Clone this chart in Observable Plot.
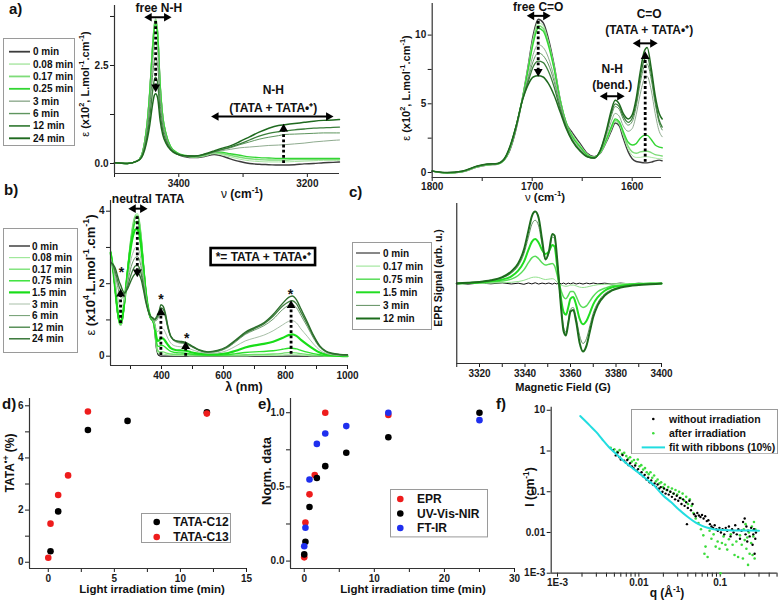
<!DOCTYPE html>
<html><head><meta charset="utf-8">
<script src="https://cdn.jsdelivr.net/npm/d3@7"></script>
<script src="https://cdn.jsdelivr.net/npm/@observablehq/plot@0.6"></script>
<style>
body{margin:0;background:#fff;}
#fig{position:relative;width:783px;height:602px;overflow:hidden;font-family:"Liberation Sans",Arial,sans-serif;font-weight:bold;color:#111;background:#fff;}
.lab{position:absolute;white-space:nowrap;transform:translate(-50%,-50%);line-height:1;}
.ylab{position:absolute;white-space:nowrap;transform:translate(-50%,-50%) rotate(-90deg);line-height:1;}
.letter{position:absolute;font-size:15px;line-height:1;}
sup{font-size:68%;vertical-align:super;line-height:0;}
.nb{font-weight:normal;}
</style></head><body><div id="fig"></div>
<script>
// ================= DATA =================
// (a, left) FT-IR N-H region
const irNHWavenumber = [3500,3480,3465,3458,3453,3449,3445,3441,3438,3436,3433,3429,3425,3420,3413,3403,3392,3375,3360,3345,3335,3320,3305,3290,3275,3260,3245,3235,3220,3205,3190,3175,3160,3150];
const irNHLabels = ["0 min","0.08 min","0.17 min","0.25 min","3 min","6 min","12 min","24 min"];
const irNH_0   = [0.02,0.0,0.06,0.2,0.55,1.05,1.85,2.9,3.5,3.62, 3.35,2.0,1.2,0.75,0.42,0.25,0.18,0.15,0.18,0.23, 0.2,0.12,0.05,0.0,-0.02,-0.03,-0.04,-0.04,-0.03,-0.01, 0.0,0.02,0.03,0.04];
const irNH_008 = [0.02,0.0,0.06,0.21,0.57,1.08,1.9,2.98,3.58,3.7, 3.42,2.05,1.23,0.77,0.43,0.26,0.19,0.16,0.19,0.25, 0.23,0.17,0.11,0.07,0.05,0.04,0.04,0.04,0.05,0.06, 0.07,0.08,0.08,0.08];
const irNH_017 = [0.02,0.0,0.06,0.21,0.56,1.07,1.88,2.94,3.54,3.66, 3.38,2.03,1.22,0.77,0.44,0.27,0.2,0.17,0.2,0.27, 0.26,0.21,0.16,0.12,0.1,0.09,0.09,0.09,0.1,0.1, 0.1,0.11,0.11,0.11];
const irNH_025 = [0.02,0.0,0.06,0.2,0.55,1.04,1.83,2.86,3.44,3.55, 3.29,1.98,1.2,0.76,0.44,0.28,0.21,0.18,0.22,0.29, 0.29,0.25,0.21,0.17,0.15,0.14,0.13,0.13,0.13,0.13, 0.13,0.13,0.13,0.13];
const irNH_3   = [0.02,0.0,0.06,0.19,0.5,0.92,1.62,2.5,3.0,3.1, 2.88,1.75,1.08,0.7,0.41,0.26,0.2,0.18,0.22,0.28, 0.32,0.36,0.4,0.42,0.44,0.46,0.47,0.48,0.5,0.52, 0.55,0.57,0.59,0.6];
const irNH_6   = [0.02,0.0,0.06,0.18,0.46,0.84,1.45,2.2,2.62,2.7, 2.52,1.55,0.98,0.65,0.4,0.26,0.2,0.19,0.23,0.3, 0.35,0.4,0.48,0.55,0.62,0.67,0.71,0.74,0.75,0.76, 0.77,0.78,0.78,0.78];
const irNH_12  = [0.02,0.0,0.06,0.16,0.4,0.72,1.2,1.8,2.14,2.2, 2.06,1.3,0.85,0.58,0.37,0.25,0.2,0.19,0.23,0.3, 0.35,0.42,0.5,0.6,0.7,0.77,0.81,0.83,0.86,0.88, 0.9,0.91,0.92,0.93];
const irNH_24  = [0.02,0.0,0.06,0.15,0.35,0.62,1.0,1.48,1.74,1.78, 1.68,1.1,0.74,0.52,0.35,0.24,0.2,0.19,0.24,0.32, 0.38,0.45,0.56,0.68,0.8,0.9,0.97,0.99,1.02,1.05, 1.08,1.1,1.11,1.12];

// (a, right) FT-IR C=O region
const irCOWavenumber = [1800,1785,1770,1755,1745,1735,1728,1722,1716,1710,1704,1699,1694,1689,1684,1678,1672,1666,1660,1652,1645,1638,1632,1626,1621,1617,1613,1609,1604,1600,1596,1592,1588,1585,1581,1577,1573,1570];
const irCO_0   = [0.1,-0.05,0.05,0.4,0.55,0.6,0.9,1.7,3.2, 5.3,7.8,10.0,11.15,10.9,9.8,7.8,5.3,3.6,2.9, 2.1,1.4,1.15,1.4,2.2,3.0,3.6,3.4,2.5,1.5, 1.0,0.8,0.75,0.7,0.7,0.75,0.85,0.9,0.85];
const irCO_008 = [0.1,-0.05,0.05,0.4,0.55,0.6,0.9,1.75,3.3, 5.3,7.7,9.8,10.9,10.7,9.6,7.7,5.3,3.6,2.8, 2.0,1.35,1.12,1.4,2.25,3.1,3.7,3.5,2.7,1.7, 1.25,1.1,1.1,1.15,1.15,1.1,1.05,1.0,1.0];
const irCO_017 = [0.1,-0.04,0.06,0.42,0.56,0.61,0.92,1.8,3.35, 5.3,7.6,9.6,10.7,10.5,9.5,7.6,5.3,3.6,2.7, 1.9,1.3,1.1,1.45,2.3,3.2,3.8,3.6,2.85,1.9, 1.5,1.4,1.5,1.55,1.55,1.45,1.3,1.25,1.2];
const irCO_025 = [0.1,-0.03,0.07,0.43,0.57,0.62,0.94,1.85,3.4, 5.3,7.5,9.4,10.5,10.3,9.3,7.5,5.2,3.6,2.6, 1.85,1.25,1.08,1.5,2.4,3.3,3.9,3.7,3.0,2.2, 2.0,2.1,2.5,2.7,2.7,2.4,2.0,1.85,1.8];
const irCO_3   = [0.1,-0.02,0.08,0.44,0.58,0.63,0.96,1.9,3.4, 5.3,7.0,8.6,9.3,9.1,8.4,6.9,5.0,3.5,2.5, 1.75,1.2,1.05,1.55,2.6,3.7,4.3,4.1,3.4,3.0, 3.2,4.2,5.7,6.8,7.0,6.0,4.3,3.0,2.6];
const irCO_6   = [0.1,-0.02,0.08,0.45,0.6,0.64,0.97,1.9,3.4, 5.25,6.8,8.1,8.7,8.5,7.9,6.6,4.8,3.4,2.4, 1.65,1.18,1.05,1.58,2.8,4.1,4.8,4.6,3.9,3.45, 3.7,4.8,6.5,7.7,7.9,6.8,5.0,3.6,3.1];
const irCO_12  = [0.1,-0.01,0.09,0.46,0.61,0.65,0.98,1.92,3.4, 5.2,6.6,7.7,8.1,8.0,7.4,6.2,4.6,3.3,2.35, 1.6,1.16,1.05,1.6,2.9,4.3,5.0,4.8,4.1,3.65, 3.95,5.1,6.9,8.2,8.4,7.2,5.3,3.8,3.3];
const irCO_24  = [0.1,0.0,0.1,0.47,0.62,0.66,1.0,1.95,3.4, 5.2,6.4,6.95,7.05,6.95,6.5,5.6,4.4,3.2,2.3, 1.55,1.15,1.05,1.6,3.0,4.5,5.25,5.0,4.3,3.9, 4.2,5.4,7.3,8.8,9.1,7.6,5.6,4.3,3.9];

// (b) UV-Vis-NIR
const uvWavelength = [236,245,252,258,264,268,273,280,290,300, 310,316,322,328,335,342,350,358,365,372, 378,383,388,393,398,405,412,420,430,445, 460,478,495,520,550,580,610,640,670,700, 730,760,790,810,822,835,850,870,890,910, 930,950,975,1000];
const uvLabels = ["0 min","0.08 min","0.17 min","0.75 min","1.5 min","3 min","6 min","12 min","24 min"];
const uv_0   = [2.85,2.3,1.7,1.2,0.92,0.86,0.95,1.4,2.3,3.1, 3.65,3.82,3.85,3.7,3.2,2.5,1.75,1.25,1.03,0.97, 0.7,0.25,0.06,0.01,0,0,0,0,0,0, 0,0,0,0,0,0,0,0,0,0, 0,0,0,0,0,0,0,0,0,0, 0,0,0,0];
const uv_008 = [2.9,2.35,1.72,1.2,0.9,0.85,0.95,1.42,2.35,3.18, 3.75,3.9,3.93,3.78,3.27,2.55,1.78,1.27,1.04,0.98, 0.72,0.3,0.1,0.06,0.06,0.06,0.05,0.04,0.03,0.02, 0.02,0.02,0.01,0.01,0.01,0.01,0.01,0.01,0.01,0.02, 0.02,0.02,0.03,0.04,0.04,0.04,0.03,0.02,0.01,0.01, 0,0,0,0];
const uv_017 = [2.9,2.35,1.72,1.22,0.92,0.87,0.97,1.43,2.34,3.15, 3.7,3.86,3.88,3.74,3.24,2.54,1.78,1.28,1.05,0.99, 0.75,0.36,0.16,0.12,0.12,0.12,0.1,0.08,0.06,0.05, 0.05,0.05,0.04,0.03,0.02,0.02,0.02,0.03,0.04,0.05, 0.05,0.06,0.08,0.1,0.1,0.09,0.07,0.05,0.03,0.02, 0.01,0.01,0,0];
const uv_075 = [2.88,2.33,1.73,1.24,0.95,0.9,1.0,1.45,2.3,3.05, 3.55,3.7,3.72,3.58,3.12,2.46,1.75,1.28,1.06,1.0, 0.8,0.45,0.28,0.27,0.3,0.29,0.25,0.19,0.13,0.1, 0.09,0.08,0.06,0.04,0.03,0.03,0.04,0.07,0.1,0.12, 0.13,0.15,0.19,0.22,0.22,0.2,0.16,0.11,0.07,0.04, 0.02,0.01,0.01,0];
const uv_15  = [2.85,2.32,1.75,1.28,1.0,0.95,1.05,1.48,2.25,2.95, 3.38,3.5,3.5,3.38,2.97,2.38,1.72,1.28,1.07,1.0, 0.84,0.55,0.42,0.44,0.5,0.49,0.42,0.32,0.22,0.17, 0.16,0.15,0.11,0.07,0.05,0.05,0.08,0.15,0.24,0.3, 0.34,0.4,0.5,0.58,0.6,0.56,0.45,0.32,0.2,0.1, 0.05,0.03,0.01,0];
const uv_3   = [2.7,2.4,2.0,1.65,1.42,1.36,1.38,1.55,2.05,2.6, 2.9,3.0,3.0,2.9,2.6,2.15,1.62,1.25,1.07,1.0, 0.88,0.72,0.68,0.72,0.78,0.76,0.66,0.5,0.36,0.28, 0.26,0.25,0.19,0.12,0.08,0.09,0.15,0.28,0.42,0.5, 0.58,0.7,0.86,0.96,0.98,0.92,0.75,0.55,0.34,0.17, 0.08,0.04,0.02,0.01];
const uv_6   = [2.65,2.45,2.2,1.95,1.72,1.62,1.6,1.68,2.0,2.4, 2.65,2.73,2.75,2.68,2.42,2.02,1.56,1.25,1.08,1.02, 0.97,0.98,1.04,1.14,1.25,1.22,1.08,0.78,0.52,0.4, 0.36,0.34,0.27,0.17,0.11,0.13,0.22,0.4,0.6,0.72, 0.84,1.02,1.28,1.4,1.42,1.34,1.12,0.82,0.5,0.25, 0.12,0.06,0.03,0.02];
const uv_12  = [2.6,2.48,2.3,2.1,1.9,1.83,1.75,1.72,1.9,2.2, 2.42,2.49,2.5,2.45,2.25,1.92,1.52,1.25,1.09,1.04, 1.0,1.03,1.1,1.2,1.33,1.3,1.15,0.82,0.55,0.42, 0.39,0.36,0.28,0.17,0.11,0.14,0.24,0.43,0.63,0.76, 0.89,1.1,1.38,1.5,1.53,1.45,1.21,0.89,0.55,0.27, 0.13,0.07,0.04,0.03];
const uv_24  = [2.58,2.52,2.4,2.22,2.05,1.97,1.85,1.75,1.85,2.05, 2.22,2.28,2.3,2.26,2.1,1.82,1.47,1.22,1.1,1.06, 1.02,1.07,1.15,1.27,1.42,1.38,1.2,0.85,0.55,0.43, 0.41,0.38,0.3,0.18,0.12,0.16,0.26,0.45,0.66,0.79, 0.92,1.15,1.45,1.62,1.66,1.56,1.3,0.95,0.58,0.29, 0.14,0.08,0.05,0.04];

// (c) EPR
const eprField = [3310,3315,3320,3325,3330,3334,3337,3339.5,3341.5,3343,3344.5,3346,3347.5,3349,3350.5,3352,3353,3354,3355,3356,3357,3358,3359,3360,3361.2,3362.5,3364,3365.5,3367,3368.5,3370,3372,3375,3378,3382,3386,3390,3395,3400];
const eprLabels = ["0 min","0.17 min","0.75 min","1.5 min","3 min","12 min"];
const epr_0   = [0.005,-0.008,0.006,-0.004,0.008,-0.006,0.004,-0.01,0.007,-0.005,0.009,-0.007,0.005,-0.004,0.006,-0.008,0.004,-0.006,0.007,-0.005,0.006,-0.009,0.005,-0.004,0.008,-0.006,0.004,-0.007,0.005,-0.004,0.006,-0.005,0.004,-0.006,0.005,-0.004,0.003,-0.004,0.002];
const epr_017 = [0,0,0,0.005,0.01, 0.015,0.025,0.04,0.06,0.075, 0.08,0.075,0.06,0.05,0.055, 0.06,0.05,0.02,0,-0.02, -0.03,-0.035,-0.03,-0.02,-0.02, -0.03,-0.045,-0.05,-0.045,-0.035, -0.025,-0.015,-0.01,-0.005,0, 0,0,0,0];
const epr_075 = [0,0.005,0.01,0.02,0.03, 0.055,0.1,0.17,0.26,0.32, 0.34,0.31,0.26,0.23,0.24, 0.25,0.22,0.12,0.0,-0.1, -0.17,-0.19,-0.15,-0.1,-0.1, -0.16,-0.26,-0.3,-0.28,-0.22, -0.16,-0.1,-0.06,-0.03,-0.02, -0.01,0,0,0];
const epr_15  = [0.0,0.005,0.015,0.03,0.05, 0.09,0.16,0.27,0.42,0.52, 0.556,0.51,0.42,0.37,0.4, 0.48,0.46,0.25,0.0,-0.22, -0.36,-0.39,-0.3,-0.19,-0.17, -0.27,-0.44,-0.51,-0.47,-0.37, -0.26,-0.17,-0.09,-0.05,-0.03, -0.015,-0.01,0.0,0.0];
const epr_3   = [0.0,0.01,0.02,0.035,0.07, 0.13,0.22,0.37,0.58,0.74, 0.79,0.72,0.49,0.3,0.38, 0.58,0.56,0.32,0.0,-0.32, -0.55,-0.61,-0.47,-0.32,-0.3, -0.43,-0.65,-0.75,-0.69,-0.53, -0.37,-0.24,-0.13,-0.08,-0.045, -0.025,-0.015,-0.005,0.0];
const epr_12  = [0.0,0.01,0.02,0.04,0.08, 0.15,0.25,0.42,0.66,0.84, 0.9,0.82,0.55,0.3,0.4, 0.62,0.6,0.35,0.0,-0.35, -0.6,-0.65,-0.5,-0.35,-0.33, -0.48,-0.74,-0.85,-0.78,-0.6, -0.42,-0.27,-0.15,-0.09,-0.05, -0.03,-0.02,-0.01,0.0];

// (d) TATA radical fraction
const c12Time = [0.17, 0.75, 3, 6, 12];
const c12Value = [0.42, 1.95, 5.07, 5.42, 5.75];
const c13Time = [0, 0.17, 0.75, 1.5, 3, 12];
const c13Value = [0.17, 1.48, 2.58, 3.33, 5.78, 5.7];

// (e) normalized kinetics
const eprTime = [0, 0.17, 0.75, 1.5, 3, 12];
const eprNorm = [0.025, 0.26, 0.45, 0.58, 1.0, 0.985];
const uvTime = [0, 0.17, 0.75, 1.8, 3, 6, 12, 25];
const uvNorm = [0.045, 0.13, 0.365, 0.56, 0.64, 0.73, 0.835, 1.0];
const irTime = [0, 0.17, 0.75, 1.8, 3, 6, 12, 25];
const irNorm = [0.1, 0.225, 0.55, 0.79, 0.86, 0.91, 1.0, 0.95];

// (f) SANS
const sansDark = [[0.0048,1.05],[0.0052,0.78],[0.0055,0.92],[0.0058,0.7],[0.006,0.62],[0.0063,0.8],[0.0066,0.58],[0.0069,0.52],[0.0072,0.6],[0.0075,0.45],[0.0078,0.5],[0.0082,0.42],[0.0086,0.38],[0.009,0.44],[0.0094,0.33],[0.0098,0.36],[0.0103,0.28],[0.0108,0.3],[0.0113,0.24],[0.0118,0.26],[0.0124,0.2],[0.013,0.22],[0.0136,0.17],[0.0142,0.19],[0.0149,0.15],[0.0156,0.16],[0.0163,0.13],[0.017,0.15],[0.0178,0.12],[0.0186,0.13],[0.0195,0.1],[0.0204,0.12],[0.0213,0.09],[0.0223,0.11],[0.0233,0.085],[0.0244,0.1],[0.0255,0.075],[0.0267,0.09],[0.0279,0.065],[0.0292,0.08],[0.0305,0.06],[0.0319,0.07],[0.0334,0.05],[0.0349,0.065],[0.0365,0.045],[0.0382,0.055],[0.039,0.016],[0.04,0.04],[0.0418,0.06],[0.0437,0.035],[0.0457,0.05],[0.0478,0.028],[0.05,0.025],[0.0523,0.03],[0.0547,0.026],[0.0572,0.024],[0.0598,0.027],[0.0625,0.022],[0.0654,0.025],[0.0684,0.019],[0.0715,0.02],[0.0748,0.016],[0.0782,0.014],[0.0818,0.013],[0.0855,0.015],[0.0894,0.012],[0.0935,0.011],[0.0978,0.013],[0.102,0.01],[0.107,0.012],[0.112,0.009],[0.117,0.013],[0.122,0.011],[0.128,0.014],[0.134,0.008],[0.14,0.012],[0.146,0.01],[0.153,0.015],[0.16,0.009],[0.167,0.012],[0.175,0.007],[0.183,0.011],[0.191,0.018],[0.2,0.022],[0.205,0.009],[0.21,0.014],[0.215,0.006],[0.22,0.011],[0.23,0.008],[0.24,0.013],[0.25,0.005],[0.255,0.009],[0.26,0.012],[0.265,0.003],[0.27,0.007],[0.275,0.01]];
const sansLight = [[0.0045,1.2],[0.005,1.1],[0.0054,0.95],[0.0058,1.05],[0.0062,0.85],[0.0066,0.9],[0.007,0.75],[0.0074,0.65],[0.0078,0.7],[0.0082,0.55],[0.0087,0.6],[0.0092,0.5],[0.0097,0.62],[0.0102,0.42],[0.0107,0.45],[0.0113,0.35],[0.0119,0.38],[0.0125,0.3],[0.0132,0.27],[0.0139,0.3],[0.0146,0.22],[0.0154,0.25],[0.0162,0.18],[0.017,0.2],[0.0179,0.16],[0.0188,0.17],[0.0198,0.13],[0.0208,0.15],[0.0219,0.11],[0.023,0.13],[0.0242,0.1],[0.0255,0.12],[0.0268,0.09],[0.0282,0.11],[0.0297,0.085],[0.0312,0.1],[0.0328,0.07],[0.0345,0.09],[0.0363,0.06],[0.0382,0.075],[0.0402,0.05],[0.0423,0.065],[0.0445,0.045],[0.0468,0.03],[0.05,0.022],[0.054,0.017],[0.058,0.012],[0.062,0.0085],[0.064,0.003],[0.066,0.0045],[0.07,0.0025],[0.074,0.011],[0.078,0.007],[0.083,0.009],[0.088,0.0045],[0.093,0.006],[0.098,0.004],[0.101,0.001],[0.105,0.0055],[0.11,0.008],[0.116,0.005],[0.122,0.0038],[0.128,0.0068],[0.135,0.009],[0.142,0.005],[0.15,0.0028],[0.158,0.006],[0.166,0.0025],[0.175,0.0085],[0.184,0.005],[0.19,0.0023],[0.195,0.012],[0.2,0.0065],[0.205,0.016],[0.21,0.004],[0.215,0.0075],[0.22,0.0016],[0.225,0.01],[0.23,0.003],[0.24,0.0055],[0.245,0.014],[0.25,0.0028],[0.255,0.008],[0.26,0.018],[0.265,0.0023],[0.27,0.012]];
const fitQ = [0.0019,0.0025,0.003,0.0035,0.0043,0.005,0.006,0.007,0.0085,0.01,0.0125,0.015,0.02,0.025,0.03,0.04,0.05,0.06,0.07,0.08,0.1,0.15,0.2,0.25,0.3];
const fitI = [7.2,4.2,2.9,2.0,1.24,0.93,0.66,0.5,0.37,0.29,0.2,0.15,0.08,0.055,0.039,0.024,0.0175,0.0145,0.013,0.0122,0.0116,0.0112,0.0111,0.0111,0.011];
const sansLabels = ["without irradiation","after irradiation","fit with ribbons (10%)"];

// ================= STYLE =================
const FONT = "'Liberation Sans', Arial, sans-serif";
const irColors = ["#3c3c3c","#a8e6a2","#7edc79","#33d633","#8fab8f","#5f955f","#3b7f3b","#1f6a1f"];
const irWidths = [1.4,1,1.4,1.4,1,1,1.3,1.5];
const uvColors = ["#111111","#a0e89b","#70df6b","#2ee02e","#19dd19","#a8bfa8","#6f9c6f","#3f7f3f","#2b6e2b"];
const uvWidths = [1.2,1.2,1.3,1.4,2.2,1,1,1.3,1.4];
const eprColors = ["#111111","#92e28d","#58dd58","#22dd22","#5f8f5f","#1c6c1c"];
const eprWidths = [1,1,1.5,2,1,2];

const fig = document.getElementById("fig");
const baseStyle = {fontFamily: FONT, fontSize: "10px", fontWeight: "bold", color: "#1a1a1a", background: "transparent", overflow: "visible"};

function place(el, left, top) { el.style.position = "absolute"; el.style.left = left + "px"; el.style.top = top + "px"; fig.appendChild(el); }
function seriesLines(xs, list, colors, widths, curve = "monotone-x") {
  return list.map((ys, i) => Plot.line(xs.map((x, j) => ({x, y: ys[j]})), {x: "x", y: "y", stroke: colors[i], strokeWidth: widths[i], curve}));
}
function frame(xl, yb) { return [Plot.ruleX([xl], {stroke: "#333", strokeWidth: 1.2}), Plot.ruleY([yb], {stroke: "#333", strokeWidth: 1.2})]; }
function axX(ticks, fmt, pad = 2) { return Plot.axisX({ticks, tickFormat: fmt, tickSize: 4, tickPadding: pad, label: null}); }
function axY(ticks, fmt) { return Plot.axisY({ticks, tickFormat: fmt, tickSize: 4, tickPadding: 2, label: null}); }
const blank = () => "";
function vArrow(a) {
  const rot = a.y2 > a.y1 ? 0 : 180;
  return [Plot.ruleX([a], {x: "x", y1: "y1", y2: "y2", stroke: "#000", strokeWidth: 2.8, strokeDasharray: "2.8,2.4"}),
          Plot.dot([a], {x: "x", y: "y2", symbol: "triangle", r: 3.3, fill: "#000", stroke: "none", rotate: rot})];
}
function hArrow(a) {
  return [Plot.ruleY([a], {y: "y", x1: "xl", x2: "xr", stroke: "#000", strokeWidth: 2}),
          Plot.dot([{x: a.xl, y: a.y, r: -90}, {x: a.xr, y: a.y, r: 90}], {x: "x", y: "y", symbol: "triangle", r: 3.2, fill: "#000", stroke: "none", rotate: "r"})];
}
function txt(items, size = 12) { return Plot.text(items, {x: "x", y: "y", text: "t", fontSize: size, fontWeight: "bold", fill: "#111", fontFamily: FONT}); }
function label(html, x, y, size, rot) {
  const d = document.createElement("div"); d.className = rot ? "ylab" : "lab"; d.innerHTML = html;
  d.style.left = x + "px"; d.style.top = y + "px"; d.style.fontSize = size + "px"; fig.appendChild(d);
}
function letter(t, x, y) { const d = document.createElement("div"); d.className = "letter"; d.textContent = t; d.style.left = x + "px"; d.style.top = y + "px"; fig.appendChild(d); }
function legend(left, top, w, h, items, o) {
  const svg = d3.create("svg").attr("width", w).attr("height", h);
  svg.append("rect").attr("x", 0.5).attr("y", 0.5).attr("width", w - 1).attr("height", h - 1).attr("fill", "#fff").attr("stroke", "#9a9a9a");
  items.forEach((it, i) => {
    const y = o.y0 + i * o.dy;
    if (it.kind === "line") svg.append("line").attr("x1", o.x1).attr("x2", o.x2).attr("y1", y).attr("y2", y).attr("stroke", it.color).attr("stroke-width", it.width);
    else svg.append("circle").attr("cx", o.cx).attr("cy", y).attr("r", it.r).attr("fill", it.color);
    svg.append("text").attr("x", o.tx).attr("y", y).attr("dy", "0.35em").attr("font-size", o.fs).attr("font-weight", "bold").attr("font-family", FONT).attr("fill", "#111").text(it.label);
  });
  place(svg.node(), left, top);
}

// ================= PANEL a (left) =================
const irNHList = [irNH_0, irNH_008, irNH_017, irNH_025, irNH_3, irNH_6, irNH_12, irNH_24];
const pA1 = Plot.plot({
  width: 290, height: 200, marginLeft: 54, marginRight: 11, marginTop: 5, marginBottom: 27,
  x: {domain: [3500, 3150]}, y: {domain: [-0.255, 4.03]}, style: baseStyle,
  marks: [
    ...seriesLines(irNHWavenumber, irNHList, irColors, irWidths),
    axX([3400, 3200], d => String(d)), axX([3500, 3300], blank),
    axY([0, 2.5], d => d.toFixed(1)), axY([1.25, 3.75], blank),
    ...frame(3500, -0.255),
    ...vArrow({x: 3436, y1: 3.62, y2: 1.95}), ...vArrow({x: 3237, y1: 0.0, y2: 0.88}),
    ...hArrow({xl: 3446, xr: 3419, y: 3.73}), ...hArrow({xl: 3342, xr: 3167, y: 1.2}),
    txt([{x: 3431, y: 3.97, t: "free N-H"}, {x: 3253, y: 1.86, t: "N-H"}, {x: 3253, y: 1.42, t: "(TATA + TATA•⁺)"}])
  ]
});
place(pA1, 60, 0);

// ================= PANEL a (right) =================
const irCOList = [irCO_0, irCO_008, irCO_017, irCO_025, irCO_3, irCO_6, irCO_12, irCO_24];
const pA2 = Plot.plot({
  width: 320, height: 200, marginLeft: 51.7, marginRight: 39, marginTop: 3, marginBottom: 23,
  x: {domain: [1800, 1570.7]}, y: {domain: [-0.364, 12.3]}, style: baseStyle,
  marks: [
    ...seriesLines(irCOWavenumber, irCOList, irColors, irWidths),
    axX([1800, 1700, 1600], d => String(d), 1), axX([1750, 1650], blank),
    axY([0, 5, 10], d => String(d)), axY([2.5, 7.5], blank),
    ...frame(1800, -0.364),
    ...vArrow({x: 1694, y1: 11.0, y2: 7.35}), ...vArrow({x: 1587, y1: 0.75, y2: 8.45}),
    ...hArrow({xl: 1700.5, xr: 1686.5, y: 11.4}), ...hArrow({xl: 1627.5, xr: 1612.5, y: 5.55}), ...hArrow({xl: 1594.5, xr: 1579.5, y: 9.4}),
    txt([{x: 1694, y: 12.0, t: "free C=O"}, {x: 1620, y: 7.55, t: "N-H"}, {x: 1620, y: 6.33, t: "(bend.)"},
         {x: 1583, y: 11.55, t: "C=O"}, {x: 1583, y: 10.33, t: "(TATA + TATA•⁺)"}])
  ]
});
place(pA2, 380, 0);

// ================= PANEL b =================
const uvList = [uv_0, uv_008, uv_017, uv_075, uv_15, uv_3, uv_6, uv_12, uv_24];
const pB = Plot.plot({
  width: 300, height: 200, marginLeft: 50, marginRight: 13, marginTop: 10, marginBottom: 25,
  x: {domain: [235.5, 1000]}, y: {domain: [-0.257, 4.295]}, style: baseStyle,
  marks: [
    ...seriesLines(uvWavelength, uvList, uvColors, uvWidths),
    axX([400, 600, 800, 1000], d => String(d)), axX([300, 500, 700, 900], blank),
    axY([0, 2, 4], d => String(d)), axY([1, 3], blank),
    ...frame(235.5, -0.257),
    ...vArrow({x: 322, y1: 3.85, y2: 2.32}),
    ...vArrow({x: 268, y1: 0.9, y2: 1.72}), ...vArrow({x: 398, y1: 0.02, y2: 1.2}),
    ...vArrow({x: 478, y1: 0.0, y2: 0.27}), ...vArrow({x: 818, y1: 0.05, y2: 1.4}),
    ...hArrow({xl: 309, xr: 339, y: 4.07}),
    txt([{x: 357, y: 4.32, t: "neutral TATA"}]),
    txt([{x: 271, y: 2.3, t: "*"}, {x: 398, y: 1.55, t: "*"}, {x: 481, y: 0.5, t: "*"}, {x: 816, y: 1.7, t: "*"}], 14),
    Plot.rect([{x1: 560, x2: 897, y1: 2.5, y2: 2.97}], {x1: "x1", x2: "x2", y1: "y1", y2: "y2", fill: "#fff", stroke: "#000", strokeWidth: 2.6}),
    txt([{x: 728, y: 2.735, t: "*= TATA + TATA•⁺"}])
  ]
});
place(pB, 60, 190);

// ================= PANEL c =================
const eprList = [epr_0, epr_017, epr_075, epr_15, epr_3, epr_12];
const pC = Plot.plot({
  width: 230, height: 195, marginLeft: 16.25, marginRight: 9, marginTop: 8, marginBottom: 27,
  x: {domain: [3310, 3400]}, y: {domain: [-1, 1], axis: null}, style: baseStyle,
  marks: [
    ...eprList.map((ys, i) => Plot.line(eprField.map((x, j) => ({x, y: ys[j]})), {x: "x", y: "y", stroke: eprColors[i], strokeWidth: eprWidths[i], curve: i === 0 ? "linear" : "monotone-x"})),
    axX([3320, 3340, 3360, 3380, 3400], d => String(d)), axX([3310, 3330, 3350, 3370, 3390], blank),
    ...frame(3310, -1)
  ]
});
place(pC, 440, 195);

// ================= PANEL d =================
const pD = Plot.plot({
  width: 255, height: 212, marginLeft: 29, marginRight: 9, marginTop: 8, marginBottom: 34,
  x: {domain: [-1.42, 15]}, y: {domain: [-0.24, 6.28]}, style: baseStyle,
  marks: [
    axX([0, 5, 10, 15], d => String(d)), axX([2.5, 7.5, 12.5], blank),
    axY([0, 2, 4, 6], d => String(d)), axY([1, 3, 5], blank),
    ...frame(-1.42, -0.24),
    Plot.dot(c12Time.map((t, i) => ({t, v: c12Value[i]})), {x: "t", y: "v", r: 3.3, fill: "#000", stroke: "none"}),
    Plot.dot(c13Time.map((t, i) => ({t, v: c13Value[i]})), {x: "t", y: "v", r: 3.3, fill: "#ee1c1c", stroke: "none"})
  ]
});
place(pD, 0, 390);

// ================= PANEL e =================
const pE = Plot.plot({
  width: 270, height: 212, marginLeft: 40, marginRight: 6, marginTop: 8, marginBottom: 34,
  x: {domain: [-1.96, 30]}, y: {domain: [-0.05, 1.096]}, style: baseStyle,
  marks: [
    axX([0, 10, 20, 30], d => String(d)), axX([5, 15, 25], blank),
    axY([0, 0.5, 1], d => d.toFixed(1)), axY([0.25, 0.75], blank),
    ...frame(-1.96, -0.05),
    Plot.dot(eprTime.map((t, i) => ({t, v: eprNorm[i]})), {x: "t", y: "v", r: 3.3, fill: "#ee1c1c", stroke: "none"}),
    Plot.dot(uvTime.map((t, i) => ({t, v: uvNorm[i]})), {x: "t", y: "v", r: 3.3, fill: "#000", stroke: "none"}),
    Plot.dot(irTime.map((t, i) => ({t, v: irNorm[i]})), {x: "t", y: "v", r: 3.3, fill: "#1f2fee", stroke: "none"})
  ]
});
place(pE, 250, 390);

// ================= PANEL f =================
const logLabel = {0.001: "1E-3", 0.01: "0.01", 0.1: "0.1", 1: "1", 10: "10"};
const pF = Plot.plot({
  width: 273, height: 207, marginLeft: 40.7, marginRight: 6.3, marginTop: 11.7, marginBottom: 29.3,
  x: {type: "log", domain: [0.000836, 0.502]}, y: {type: "log", domain: [0.001, 11.9]}, style: baseStyle,
  marks: [
    axX([0.001, 0.01, 0.1], d => logLabel[d]),
    axX([0.002,0.003,0.004,0.005,0.006,0.007,0.008,0.009,0.02,0.03,0.04,0.05,0.06,0.07,0.08,0.09,0.2,0.3,0.4,0.5], blank),
    axY([0.001, 0.01, 0.1, 1, 10], d => logLabel[d]),
    ...frame(0.000836, 0.001),
    Plot.dot(sansLight, {x: d => d[0], y: d => d[1], r: 1.3, fill: "#3ddc3d", stroke: "none"}),
    Plot.dot(sansDark, {x: d => d[0], y: d => d[1], r: 1.2, fill: "#000", stroke: "none"}),
    Plot.line(fitQ.map((q, i) => ({q, v: fitI[i]})), {x: "q", y: "v", stroke: "#22dde0", strokeWidth: 2, curve: "monotone-x"})
  ]
});
place(pF, 510, 395);

// ================= AXIS LABELS =================
const epsA = '<span class="nb">ε</span> (x10<sup>2</sup>, L.mol<sup>-1</sup>.cm<sup>-1</sup>)';
label(epsA, 85, 84, 11, true);
label(epsA, 406, 88, 11, true);
label('<span class="nb">ν</span> (cm<sup>-1</sup>)', 242, 194, 12, false);
label('<span class="nb">ν</span> (cm<sup>-1</sup>)', 545, 198, 11.5, false);
label('<span class="nb">ε</span> (x10<sup>4</sup>.L.mol<sup>-1</sup>.cm<sup>-1</sup>)', 90, 275, 13, true);
label('λ (nm)', 244, 387, 12.5, false);
label('EPR Signal (arb. u.)', 438, 278, 10.5, true);
label('Magnetic Field (G)', 563, 387, 11, false);
label('TATA<sup>•+</sup> (%)', 10, 463, 12, true);
label('Light irradiation time (min)', 152, 590, 11.5, false);
label('Norm. data', 266, 471, 13, true);
label('Light irradiation time (min)', 413, 590, 11.5, false);
label('I (cm<sup>-1</sup>)', 530, 487, 12, true);
label('q (Å<sup>-1</sup>)', 667, 593, 12, false);

letter("a)", 9, 1); letter("b)", 4, 182); letter("c)", 349, 184);
letter("d)", 2, 396); letter("e)", 258, 396); letter("f)", 496, 396);

// ================= LEGENDS =================
legend(3, 38, 72, 108, irNHLabels.map((l, i) => ({label: l, kind: "line", color: irColors[i], width: irWidths[i] + 0.4})), {y0: 13.7, dy: 12.37, x1: 6, x2: 27, tx: 30, fs: 10});
legend(3, 228, 75, 125, uvLabels.map((l, i) => ({label: l, kind: "line", color: uvColors[i], width: uvWidths[i]})), {y0: 18, dy: 11.6, x1: 6, x2: 27, tx: 29, fs: 10});
legend(352, 242, 80, 88, eprLabels.map((l, i) => ({label: l, kind: "line", color: eprColors[i], width: eprWidths[i]})), {y0: 11, dy: 13.1, x1: 4, x2: 28, tx: 31, fs: 10});
legend(141, 512.7, 90, 30, [{label: "TATA-C12", kind: "dot", color: "#000", r: 3.3}, {label: "TATA-C13", kind: "dot", color: "#ee1c1c", r: 3.3}], {y0: 9, dy: 15, cx: 15.7, tx: 32.3, fs: 12});
legend(389.7, 489.3, 98, 48.4, [{label: "EPR", kind: "dot", color: "#ee1c1c", r: 3.3}, {label: "UV-Vis-NIR", kind: "dot", color: "#000", r: 3.3}, {label: "FT-IR", kind: "dot", color: "#1f2fee", r: 3.3}], {y0: 10, dy: 14.5, cx: 10.3, tx: 27, fs: 12});
legend(631, 409, 147, 45.3, [{label: sansLabels[0], kind: "dot", color: "#000", r: 1.3}, {label: sansLabels[1], kind: "dot", color: "#3ddc3d", r: 1.3}, {label: sansLabels[2], kind: "line", color: "#22dde0", width: 2}], {y0: 10, dy: 14.2, cx: 22.3, x1: 10.7, x2: 34, tx: 38, fs: 10.5});
</script></body></html>
